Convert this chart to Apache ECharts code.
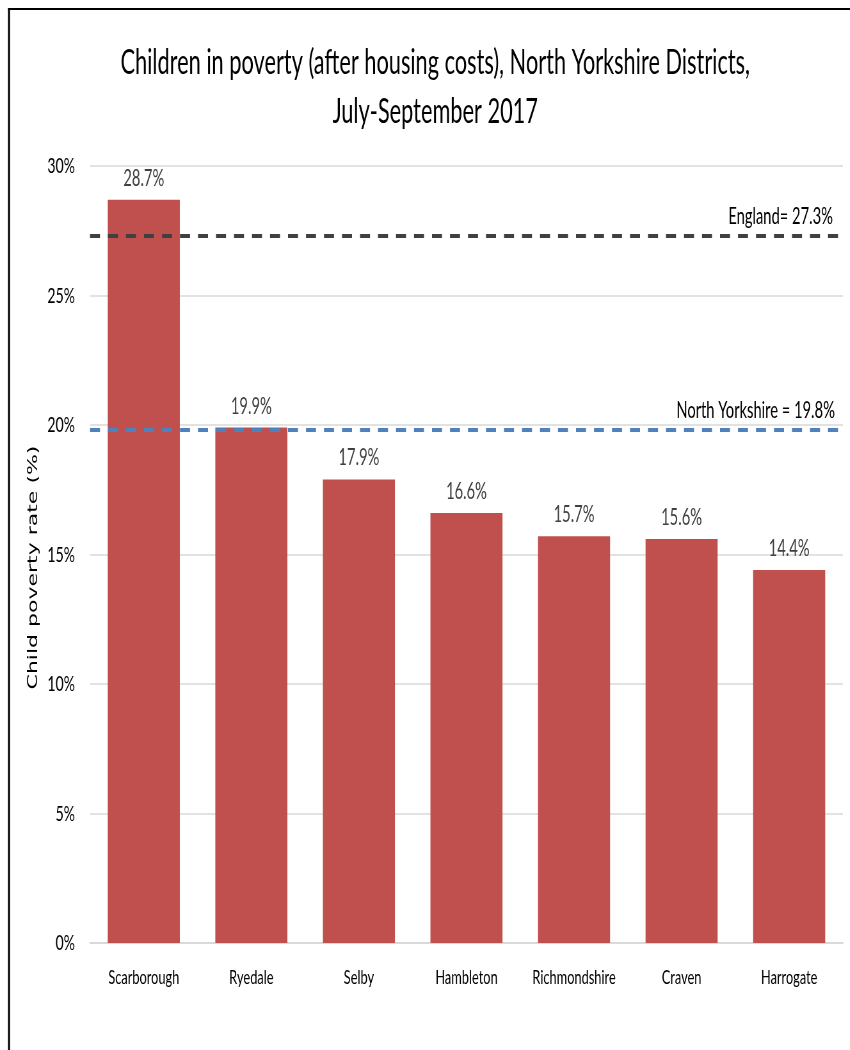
<!DOCTYPE html>
<html>
<head>
<meta charset="utf-8">
<script src="https://cdn.jsdelivr.net/npm/echarts@6/dist/echarts.min.js"></script>
<style>
  html, body { margin: 0; padding: 0; background: #fff; overflow: hidden; }
  #wrap { width: 850px; height: 1050px; overflow: hidden; position: relative; }
  #chart { height: 1050px; transform-origin: 0 0; }
</style>
</head>
<body>
<div id="wrap"><div id="chart"></div></div>
<script>
// Child poverty after housing costs, North Yorkshire districts, Jul-Sep 2017
const districts = ['Scarborough', 'Ryedale', 'Selby', 'Hambleton', 'Richmondshire', 'Craven', 'Harrogate'];
const povertyRate = [28.7, 19.9, 17.9, 16.6, 15.7, 15.6, 14.4];
const englandRate = 27.3;
const northYorkshireRate = 19.8;
const yTicks = { min: 0, max: 30, interval: 5 };

// The chart is drawn in a wider canvas and squeezed horizontally for a condensed look
const SX = 0.64;
const W = 850 / SX;
const el = document.getElementById('chart');
el.style.width = W + 'px';
el.style.transform = 'scaleX(' + SX + ')';

const chart = echarts.init(el, null, { renderer: 'canvas' });
const px = v => v / SX; // horizontal page pixels -> canvas units

chart.setOption({
  animation: false,
  backgroundColor: '#fff',
  title: {
    text: 'Children in poverty (after housing costs), North Yorkshire Districts,\nJuly-September 2017',
    left: px(432),
    top: 34,
    textAlign: 'center',
    textStyle: { fontFamily: 'Lato', fontSize: 34, fontWeight: 'normal', color: '#000', lineHeight: 49 }
  },
  grid: { left: px(90), right: px(7), top: 166, bottom: 107, containLabel: false },
  xAxis: {
    type: 'category',
    data: districts,
    axisLine: { lineStyle: { color: '#d9d9d9', width: 2 } },
    axisTick: { show: false },
    axisLabel: { interval: 0, fontFamily: 'Lato', fontSize: 20, color: '#000', margin: 25 }
  },
  yAxis: {
    type: 'value',
    min: yTicks.min, max: yTicks.max, interval: yTicks.interval,
    name: 'Child poverty rate (%)',
    nameLocation: 'middle',
    nameGap: px(46),
    nameTextStyle: { fontFamily: 'DejaVu Sans', fontSize: 22, color: '#000', padding: [0, 26, 0, 0] },
    axisLine: { show: false },
    axisTick: { show: false },
    splitLine: { lineStyle: { color: '#d9d9d9', width: 1.5 } },
    axisLabel: { formatter: '{value}%', fontFamily: 'Lato', fontSize: 22, color: '#000', margin: px(15) }
  },
  series: [{
    type: 'bar',
    data: povertyRate,
    barWidth: '67%',
    itemStyle: { color: '#C0504D' },
    label: {
      show: true, position: 'top', distance: 10,
      formatter: p => p.value.toFixed(1) + '%',
      fontFamily: 'Lato', fontSize: 23, color: '#404040'
    },
    markLine: {
      silent: true,
      symbol: 'none',
      data: [
        {
          yAxis: englandRate,
          lineStyle: { color: '#404040', type: [px(10), px(8)], width: 4 },
          label: { formatter: p => 'England= ' + p.value + '%', position: 'insideEndTop', distance: [px(10), 8] }
        },
        {
          yAxis: northYorkshireRate,
          lineStyle: { color: '#4F81BD', type: [px(10), px(8)], width: 4 },
          label: { formatter: p => 'North Yorkshire = ' + p.value + '%', position: 'insideEndTop', distance: [px(8), 8] }
        }
      ],
      label: { fontFamily: 'Lato', fontSize: 23, color: '#000' }
    }
  }],
  graphic: [
    { type: 'line', shape: { x1: px(9), y1: 8, x2: px(9), y2: 1050 }, style: { stroke: '#000', lineWidth: px(2) } },
    { type: 'line', shape: { x1: px(8), y1: 9, x2: W, y2: 9 }, style: { stroke: '#000', lineWidth: 2 } }
  ]
});
</script>
</body>
</html>
